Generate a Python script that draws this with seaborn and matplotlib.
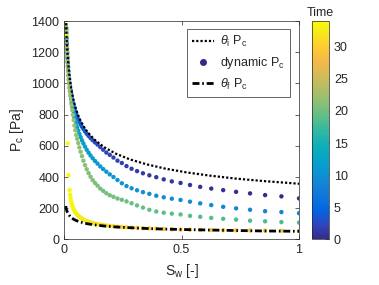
import pandas as pd
import seaborn as sns
import matplotlib
matplotlib.use('Agg')
import matplotlib.pyplot as plt
from matplotlib.colors import LinearSegmentedColormap, Normalize
from matplotlib.cm import ScalarMappable
from matplotlib.lines import Line2D

# water saturation of the dynamic points (same sampling for every run)
sw = [1.0, 0.925, 0.8556, 0.7915, 0.7321, 0.6772, 0.6264, 0.5794, 0.536, 0.4958,
      0.4586, 0.4242, 0.3924, 0.363, 0.3357, 0.3106, 0.2873, 0.2657, 0.2458, 0.2274,
      0.2103, 0.1946, 0.18, 0.1665, 0.154, 0.1424, 0.1318, 0.1219, 0.1127, 0.1043,
      0.0965, 0.0892, 0.0825, 0.0764, 0.0706, 0.0653, 0.0604, 0.0559, 0.0517, 0.0478,
      0.0442, 0.0409, 0.0379, 0.035, 0.0324, 0.03, 0.0277, 0.0256, 0.0237, 0.0219,
      0.0203, 0.0188, 0.0174, 0.0161, 0.0149, 0.0137, 0.0127, 0.0118, 0.0109, 0.0101,
      0.0093]

# dynamic capillary pressure, four runs
pc_a = [263, 276, 284, 295, 305, 316, 326, 337, 349, 362,
        372, 385, 399, 411, 424, 438, 453, 470, 490, 505,
        525, 542, 557, 575, 592, 608, 622, 636, 650, 664,
        678, 693, 708, 722, 738, 754, 770, 787, 804, 822,
        840, 858, 876, 896, 916, 936, 958, 980, 1003, 1027,
        1052, 1078, 1105, 1133, 1162, 1195, 1225, 1256, 1290, 1322, 1355]
pc_b = [168, 175, 181, 190, 199, 209, 220, 231, 242, 253,
        261, 270, 280, 292, 303, 315, 328, 342, 360, 381,
        400, 417, 434, 451, 468, 486, 503, 520, 538, 556,
        575, 595, 615, 635, 656, 677, 698, 719, 740, 762,
        784, 806, 828, 851, 874, 898, 922, 947, 972, 998,
        1025, 1053, 1082, 1111, 1141, 1173, 1204, 1236, 1270, 1304, 1340]
sw_c_tail = [0.0086, 0.008]
pc_c = [108, 111, 116, 120, 127, 132, 138, 145, 151, 160,
        165, 171, 179, 190, 204, 218, 232, 244, 254, 262,
        273, 283, 296, 311, 326, 345, 362, 380, 402, 425,
        450, 476, 505, 534, 562, 590, 618, 645, 670, 700,
        730, 765, 798, 830, 862, 893, 920, 945, 970, 996,
        1023, 1051, 1080, 1110, 1140, 1172, 1203, 1235, 1269, 1303, 1339,
        1375, 1410]
sw_d_tail = [0.019, 0.016, 0.011]
pc_d = [55, 56, 57, 58, 58, 59, 60, 61, 62, 63,
        65, 67, 69, 71, 72, 74, 76, 78, 80, 82,
        84, 87, 89, 92, 95, 98, 101, 105, 109, 113,
        117, 122, 127, 133, 139, 146, 152, 159, 166, 174,
        183, 193, 204, 216, 230, 246, 265, 287, 316,
        412, 616, 1308]

# time stamp of every dynamic point
t_a = [0.0, 0.1, 0.2, 0.3, 0.4, 0.5, 0.6, 0.7, 0.8, 0.9, 1.0, 1.1, 1.2, 1.3, 1.4, 1.5,
       1.6, 1.7, 1.8, 1.9, 2.0, 2.1, 2.2, 2.3, 2.4, 2.5, 2.6, 2.7, 2.8, 2.9, 3.0, 3.1,
       3.2, 3.3, 3.4, 3.5, 3.6, 3.7, 3.8, 3.9, 4.0, 4.1, 4.2, 4.3, 4.4, 4.5, 4.6, 4.7,
       4.8, 4.9, 5.0, 5.1, 5.2, 5.3, 5.4, 5.5, 5.6, 5.7, 5.8, 5.9, 6.0]
t_b = [8.5, 8.6, 8.7, 8.8, 8.9, 9.0, 9.1, 9.2, 9.3, 9.4, 9.5, 9.6, 9.7, 9.8, 9.9, 10.0,
       10.1, 10.2, 10.3, 10.4, 10.5, 10.6, 10.7, 10.8, 10.9, 11.0, 11.1, 11.2, 11.3, 11.4,
       11.5, 11.6, 11.7, 11.8, 11.9, 12.0, 12.1, 12.2, 12.3, 12.4, 12.5, 12.6, 12.7, 12.8,
       12.9, 13.0, 13.1, 13.2, 13.3, 13.4, 13.5, 13.6, 13.7, 13.8, 13.9, 14.0, 14.1, 14.2,
       14.3, 14.4, 14.5]
t_c = [18.0, 18.1, 18.2, 18.3, 18.4, 18.5, 18.6, 18.7, 18.8, 18.9, 19.0, 19.1, 19.2,
       19.3, 19.4, 19.5, 19.6, 19.7, 19.8, 19.9, 20.0, 20.1, 20.2, 20.3, 20.4, 20.5, 20.6,
       20.7, 20.8, 20.9, 21.0, 21.1, 21.2, 21.3, 21.4, 21.5, 21.6, 21.7, 21.8, 21.9, 22.0,
       22.1, 22.2, 22.3, 22.4, 22.5, 22.6, 22.7, 22.8, 22.9, 23.0, 23.1, 23.2, 23.3, 23.4,
       23.5, 23.6, 23.7, 23.8, 23.9, 24.0, 24.1, 24.2]
t_d = [28.9, 29.0, 29.1, 29.2, 29.3, 29.4, 29.5, 29.6, 29.7, 29.8, 29.9, 30.0, 30.1,
       30.2, 30.3, 30.4, 30.5, 30.6, 30.7, 30.8, 30.9, 31.0, 31.1, 31.2, 31.3, 31.4, 31.5,
       31.6, 31.7, 31.8, 31.9, 32.0, 32.1, 32.2, 32.3, 32.4, 32.5, 32.6, 32.7, 32.8, 32.9,
       33.0, 33.1, 33.2, 33.3, 33.4, 33.5, 33.6, 33.7, 33.8, 33.9, 34.0]

# static curves for initial and final contact angle
sw_line = [0.007, 0.008, 0.009, 0.01, 0.012, 0.015, 0.02, 0.025, 0.03, 0.04, 0.05, 0.06,
           0.07, 0.085, 0.1, 0.13, 0.17, 0.22, 0.28, 0.35, 0.43, 0.52, 0.62, 0.73, 0.85, 1.0]
pc_init = [1468, 1413, 1367, 1327, 1259, 1182, 1089, 1022, 970, 894, 839, 796,
           762, 721, 688, 639, 592, 550, 513, 482, 454, 430, 409, 390, 374, 357]
pc_final = [214, 206, 199, 193, 183, 172, 159, 149, 141, 130, 122, 116,
            111, 105, 100, 93, 86, 80, 75, 70, 66, 63, 60, 57, 54, 52]

# parula-like colormap
parula_cols = [[0.2081, 0.1663, 0.5292], [0.1959, 0.2645, 0.7279], [0.0117, 0.3875, 0.8820],
               [0.0498, 0.4586, 0.8641], [0.0793, 0.5200, 0.8312], [0.0343, 0.5966, 0.8199],
               [0.0228, 0.6535, 0.7768], [0.0843, 0.6928, 0.7062], [0.2178, 0.7250, 0.6193],
               [0.3953, 0.7459, 0.5244], [0.5709, 0.7485, 0.4494], [0.7184, 0.7411, 0.3905],
               [0.8507, 0.7299, 0.3360], [0.9739, 0.7314, 0.2666], [0.9880, 0.8066, 0.1794],
               [0.9598, 0.9218, 0.0948], [0.9763, 0.9831, 0.0538]]
parula_pos = [0, 4, 8, 12, 16, 20, 24, 28, 32, 36, 40, 44, 48, 52, 56, 60, 63]
parula = LinearSegmentedColormap.from_list(
    'parula', [(p / 63, c) for p, c in zip(parula_pos, parula_cols)])

dyn = pd.concat([
    pd.DataFrame({'Sw': sw, 'Pc': pc_a, 'Time': t_a}),
    pd.DataFrame({'Sw': sw, 'Pc': pc_b, 'Time': t_b}),
    pd.DataFrame({'Sw': sw + sw_c_tail, 'Pc': pc_c, 'Time': t_c}),
    pd.DataFrame({'Sw': sw[:49] + sw_d_tail, 'Pc': pc_d, 'Time': t_d}),
], ignore_index=True)

sns.set_style('ticks')
plt.rcParams['font.family'] = ['Liberation Sans', 'DejaVu Sans']
plt.rcParams['mathtext.fontset'] = 'custom'
plt.rcParams['mathtext.rm'] = 'Liberation Sans'
plt.rcParams['mathtext.it'] = 'Liberation Sans:italic'
grey = '0.15'

fig = plt.figure(figsize=(3.79, 2.85), dpi=100)
ax = fig.add_axes([0.169, 0.160, 0.620, 0.766])

sns.scatterplot(data=dyn, x='Sw', y='Pc', hue='Time', palette=parula, hue_norm=(0, 34),
                s=10, linewidth=0, legend=False, ax=ax)

sns.lineplot(x=sw_line, y=pc_init, color='k', lw=1.6, ax=ax)
ax.lines[-1].set_dashes([1, 0.9])
sns.lineplot(x=sw_line, y=pc_final, color='k', lw=2, ax=ax)
ax.lines[-1].set_dashes([2.5, 1, 0.6, 1])

ax.set_xlim(0, 1)
ax.set_ylim(0, 1400)
ax.set_xticks([0, 0.5, 1])
ax.set_xticklabels(['0', '0.5', '1'])
ax.set_yticks(range(0, 1401, 200))
ax.tick_params(direction='in', length=3, width=0.5, top=True, right=True,
               labelsize=9, colors=grey)
for sp in ax.spines.values():
    sp.set_linewidth(0.5)
    sp.set_color(grey)
ax.set_xlabel(r'S$_{\rm w}$ [-]', fontsize=10, color=grey)
ax.set_ylabel(r'P$_{\rm c}$ [Pa]', fontsize=10, color=grey)

handles = [Line2D([], [], color='k', lw=1.6, dashes=[1, 0.9]),
           Line2D([], [], ls='none', marker='o', ms=4, color=parula(0.0)),
           Line2D([], [], color='k', lw=2, dashes=[2.5, 1, 0.6, 1])]
labels = [r'$\theta_{\rm i}$ P$_{\rm c}$', r'dynamic P$_{\rm c}$', r'$\theta_{\rm f}$ P$_{\rm c}$']
leg = ax.legend(handles, labels, loc='upper right', bbox_to_anchor=(0.962, 0.963),
                borderaxespad=0, fontsize=9, frameon=True, fancybox=False, framealpha=1,
                edgecolor=grey, handlelength=1.8, handletextpad=0.5, labelspacing=0.45,
                borderpad=0.4)
leg.get_frame().set_linewidth(0.5)

cax = fig.add_axes([312 / 379, 0.160, 17 / 379, 0.766])
cb = fig.colorbar(ScalarMappable(norm=Normalize(0, 34), cmap=parula), cax=cax)
cb.set_ticks([0, 5, 10, 15, 20, 25, 30])
cax.tick_params(direction='in', length=3, width=0.5, labelsize=9, colors=grey)
cb.outline.set_linewidth(0.5)
cb.outline.set_edgecolor(grey)
cax.set_title('Time', fontsize=9, color=grey, pad=4)

fig.savefig('out.png', dpi=100)
